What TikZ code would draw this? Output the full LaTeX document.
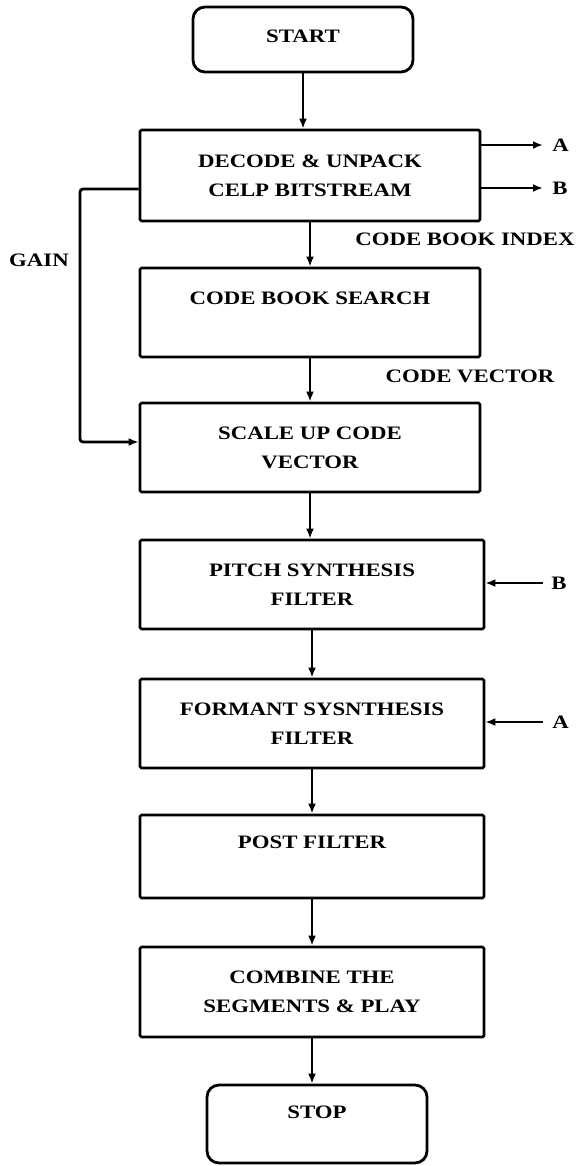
\documentclass[tikz,border=0pt]{standalone}
\usepackage{fontspec}
\setmainfont{Liberation Serif}[FakeStretch=1.2]
\usetikzlibrary{arrows.meta}
\begin{document}
\begin{tikzpicture}[x=1pt,y=-1pt,line width=2.8pt,
  txtfont/.style={font=\bfseries\fontsize{19}{29}\selectfont},
  box/.style={draw, rounded corners=1.5pt, inner sep=0pt, align=center, txtfont},
  term/.style={box, rounded corners=12pt},
  lbl/.style={inner sep=0pt, txtfont},
  arr/.style={-{Latex[length=10pt,width=8pt]}}]
\useasboundingbox (0,0) rectangle (580,1166);
% boxes
\node[term, minimum width=220pt, minimum height=65pt] (start) at (303,39.5) {};
\node[lbl] (startt) at (303,36) {START};
\node[box, minimum width=340pt, minimum height=91pt] (decode) at (310,175.5) {DECODE \& UNPACK\\CELP BITSTREAM};
\node[box, minimum width=340pt, minimum height=89pt] (cbs) at (310,312.5) {};
\node[lbl] (cbst) at (310,298) {CODE BOOK SEARCH};
\node[box, minimum width=340pt, minimum height=89pt] (scale) at (310,447.5) {SCALE UP CODE\\VECTOR};
\node[box, minimum width=344pt, minimum height=89pt] (pitch) at (312,584.5) {PITCH SYNTHESIS\\FILTER};
\node[box, minimum width=344pt, minimum height=89pt] (formant) at (312,723.5) {FORMANT SYSNTHESIS\\FILTER};
\node[box, minimum width=344pt, minimum height=83pt] (post) at (312,856.5) {};
\node[lbl] (postt) at (312,842) {POST FILTER};
\node[box, minimum width=344pt, minimum height=90pt] (combine) at (312,992) {COMBINE THE\\SEGMENTS \& PLAY};
\node[term, minimum width=220pt, minimum height=78pt] (stop) at (317,1124) {};
\node[lbl] (stopt) at (317,1112) {STOP};
% labels
\node[lbl] (cbi) at (465,239) {CODE BOOK INDEX};
\node[lbl] (cv) at (470,376) {CODE VECTOR};
\node[lbl] (gain) at (39,260) {GAIN};
\node[lbl, anchor=west] (oa) at (551,145) {A};
\node[lbl, anchor=west] (ob) at (551,188) {B};
\node[lbl, anchor=west] (ib) at (550,583) {B};
\node[lbl, anchor=west] (ia) at (551,722) {A};
\coordinate (aend) at (543,145);
\coordinate (bend) at (543,188);
\coordinate (bst) at (543,583);
\coordinate (ast) at (543,722);
\coordinate (g1) at (80,189);
\coordinate (g2) at (80,442);
% main flow
\draw[arr] (start.south) -- (start.south |- decode.north);
\draw[arr] (decode.south) -- (cbs.north);
\draw[arr] (cbs.south) -- (scale.north);
\draw[arr] (scale.south) -- (scale.south |- pitch.north);
\draw[arr] (pitch.south) -- (formant.north);
\draw[arr] (formant.south) -- (post.north);
\draw[arr] (post.south) -- (combine.north);
\draw[arr] (combine.south) -- (combine.south |- stop.north);
% side connectors
\draw[arr] (decode.east |- aend) -- (aend);
\draw[arr] (decode.east |- bend) -- (bend);
\draw[arr] (bst) -- (bst -| pitch.east);
\draw[arr] (ast) -- (ast -| formant.east);
\draw[arr, rounded corners=3pt] (decode.west |- g1) -- (g1) -- (g2) -- (scale.west |- g2);
\end{tikzpicture}
\end{document}
